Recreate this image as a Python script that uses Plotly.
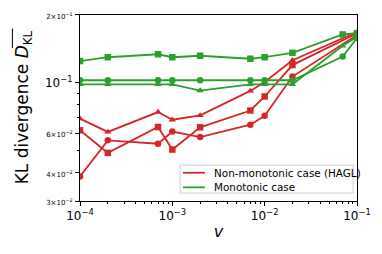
import plotly.graph_objects as go

v = [1e-4, 2e-4, 7e-4, 1e-3, 2e-3, 7e-3, 1e-2, 2e-2, 7e-2, 1e-1]
v_red = [1e-4, 2e-4, 7e-4, 1e-3, 2e-3, 7e-3, 1e-2, 2e-2, 1e-1]

red_triangle = [0.0695, 0.0607, 0.0743, 0.0687, 0.0718, 0.0922, 0.101, 0.126, 0.168]
red_square = [0.0617, 0.0490, 0.0638, 0.0507, 0.0636, 0.0755, 0.0871, 0.120, 0.166]
red_circle = [0.0385, 0.0557, 0.0538, 0.0609, 0.0576, 0.0653, 0.0716, 0.1067, 0.163]

green_square = [0.125, 0.130, 0.134, 0.130, 0.132, 0.128, 0.130, 0.136, 0.164, 0.166]
green_circle = [0.1028, 0.1028, 0.1028, 0.1028, 0.1028, 0.1028, 0.1028, 0.1028, 0.131, 0.158]
green_triangle = [0.0986, 0.0986, 0.0986, 0.0986, 0.0925, 0.0986, 0.0986, 0.0986, 0.146, 0.160]

legend_labels = ["Non-monotonic case (HAGL)", "Monotonic case"]

x_ticks = [1e-4, 1e-3, 1e-2, 1e-1]
x_ticktext = ["10<sup>−4</sup>", "10<sup>−3</sup>", "10<sup>−2</sup>", "10<sup>−1</sup>"]
y_ticks = [0.03, 0.04, 0.06, 0.1, 0.2]
y_ticktext = ["3×10<sup>−2</sup>", "4×10<sup>−2</sup>", "6×10<sup>−2</sup>", "10<sup>−1</sup>", "2×10<sup>−1</sup>"]
y_minor = [0.05, 0.07, 0.08, 0.09]

RED = "#d62728"
GREEN = "#2ca02c"

fig = go.Figure()
for ys, sym in [(red_triangle, "triangle-up"), (red_square, "square"), (red_circle, "circle")]:
    fig.add_trace(go.Scatter(x=v_red, y=ys, mode="lines+markers", showlegend=False,
                             line=dict(color=RED, width=1.8),
                             marker=dict(symbol=sym, size=6.5, color=RED)))
for ys, sym in [(green_square, "square"), (green_circle, "circle"), (green_triangle, "triangle-up")]:
    fig.add_trace(go.Scatter(x=v, y=ys, mode="lines+markers", showlegend=False,
                             line=dict(color=GREEN, width=1.8),
                             marker=dict(symbol=sym, size=6.5, color=GREEN)))

small_y = ['<span style="font-size:7px">%s</span>' % t if not t.startswith("10") else t for t in y_ticktext]

minor_x = [k * 10 ** e for e in (-4, -3, -2) for k in range(2, 10)]
fig.update_xaxes(type="log", range=[-4, -1], tickvals=x_ticks, ticktext=x_ticktext,
                 ticks="outside", ticklen=4, tickcolor="black", showgrid=False,
                 showline=True, linecolor="black", linewidth=1, mirror=True,
                 tickfont=dict(family="DejaVu Sans", size=12, color="black"),
                 minor=dict(tickvals=minor_x, ticks="outside", ticklen=2, tickcolor="black", showgrid=False),
                 title=dict(text="<i>v</i>", font=dict(family="DejaVu Sans", size=16, color="black"), standoff=3))
fig.update_yaxes(type="log", range=[-1.5229, -0.699], tickvals=y_ticks, ticktext=small_y,
                 ticks="outside", ticklen=4, tickcolor="black", showgrid=False,
                 showline=True, linecolor="black", linewidth=1, mirror=True,
                 tickfont=dict(family="DejaVu Sans", size=12, color="black"),
                 minor=dict(tickvals=y_minor, ticks="outside", ticklen=2, tickcolor="black", showgrid=False))

# y-axis title as a rotated annotation, with an overline over D_KL
fig.add_annotation(text="KL divergence <i>D</i><sub>KL</sub>", textangle=-90,
                   xref="paper", yref="paper", x=-0.205, y=0.505, xanchor="center", yanchor="middle",
                   showarrow=False, font=dict(family="DejaVu Sans", size=17, color="black"))
fig.add_shape(type="line", xref="paper", yref="paper", x0=-0.244, x1=-0.244, y0=0.927, y1=0.823,
              line=dict(color="black", width=1))

# compact legend box (matplotlib style)
fig.add_shape(type="rect", xref="paper", yref="paper", x0=0.361, x1=0.986, y0=0.043, y1=0.193,
              line=dict(color="#d0d0d0", width=1), fillcolor="rgba(255,255,255,0.85)", layer="above")
for label, color, yy in [(legend_labels[0], RED, 0.152), (legend_labels[1], GREEN, 0.0735)]:
    fig.add_shape(type="line", xref="paper", yref="paper", x0=0.372, x1=0.451, y0=yy, y1=yy,
                  line=dict(color=color, width=1.8), layer="above")
    fig.add_annotation(text=label, xref="paper", yref="paper", x=0.478, y=yy,
                       xanchor="left", yanchor="middle", showarrow=False,
                       font=dict(family="DejaVu Sans", size=10.4, color="black"))

fig.update_layout(
    width=382, height=254,
    margin=dict(l=80, r=25, t=15, b=53),
    paper_bgcolor="white", plot_bgcolor="white",
    font=dict(family="DejaVu Sans", color="black"),
    showlegend=False,
)
fig.write_html("out.html", config={"displayModeBar": False},
               post_script="document.body.style.margin='0';document.body.style.overflow='hidden';")
